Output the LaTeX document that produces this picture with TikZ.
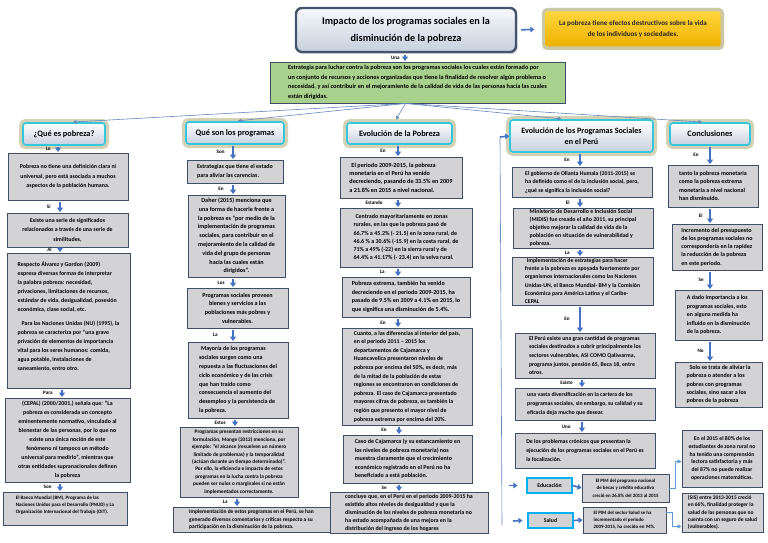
\documentclass[tikz,border=0pt]{standalone}
\usepackage{fontspec}
\setmainfont{Carlito}
\usetikzlibrary{arrows.meta,shadows,calc}

\definecolor{boxfill}{RGB}{211,211,214}
\definecolor{boxline}{RGB}{62,78,104}
\definecolor{arrblue}{RGB}{68,114,196}
\definecolor{thinblue}{RGB}{100,135,190}
\definecolor{elbblue}{RGB}{91,155,213}
\definecolor{cyanline}{RGB}{52,198,220}
\definecolor{glowc}{RGB}{160,155,90}
\definecolor{greenfill}{RGB}{169,209,142}
\definecolor{goldA}{RGB}{255,214,60}
\definecolor{goldB}{RGB}{238,176,0}
\definecolor{titletop}{RGB}{246,248,251}
\definecolor{titlebot}{RGB}{200,208,222}
\definecolor{titleline}{RGB}{68,84,106}
\definecolor{eduline}{RGB}{0,176,240}

\newcommand\myfs[2]{\fontsize{#1}{#2}\selectfont\bfseries}

\tikzset{
  gb/.style={draw=boxline, fill=boxfill, line width=0.9pt, inner xsep=2pt, inner ysep=1pt, font=\myfs{5.5}{8.5}},
  ttl/.style={draw=cyanline, line width=1.6pt, rounded corners=3pt, top color=white, bottom color=titlebot,
     font=\myfs{8.3}{9}, align=center, preaction={draw=glowc, line width=8pt, draw opacity=0.45}},
  maintitle/.style={draw=titleline, line width=2.4pt, rounded corners=6pt, top color=titletop, bottom color=titlebot,
     font=\myfs{10.2}{16.5}, align=center, drop shadow={shadow xshift=1.5pt, shadow yshift=-2pt, opacity=0.3}},
  yel/.style={rounded corners=2pt, top color=goldA, bottom color=goldB, font=\myfs{7.1}{10.5}, text=black!85,
     align=center, preaction={draw=glowc, line width=7pt, draw opacity=0.55}},
  edub/.style={draw=eduline, line width=1.1pt, fill=boxfill, font=\myfs{5.8}{6}, inner sep=1pt},
  darr/.style={draw=arrblue, line width=1.8pt, shorten <=1.5pt, shorten >=0.5pt, -{Triangle[width=6pt,length=4.5pt]}},
  harr/.style={draw=arrblue, line width=1.6pt, -{Triangle[width=5.5pt,length=4pt]}},
  fan/.style={draw=thinblue, line width=0.6pt, shorten >=3pt, -{Triangle[width=3.5pt,length=3.5pt]}},
  plainln/.style={draw=thinblue, line width=0.6pt},
  elb/.style={draw=elbblue, line width=0.7pt, -{Triangle[width=4pt,length=4pt]}},
  lbl/.style={font=\myfs{5.1}{5.5}, inner sep=0.5pt}
}

% name, x1, y1, x2, y2, options, text
\newcommand\gbox[7]{%
  \pgfmathsetlengthmacro\bxw{(#4)-(#2)}%
  \pgfmathsetlengthmacro\bxh{(#5)-(#3)}%
  \pgfmathsetmacro\bxcx{((#2)+(#4))/2}%
  \pgfmathsetmacro\bxcy{((#3)+(#5))/2}%
  \node[gb, minimum width=\bxw, minimum height=\bxh, #6] (#1) at (\bxcx,\bxcy) {#7};}

% from, to, x, label, label distance
\newcommand\dar[5]{%
  \coordinate (tmpx) at (#3,0);
  \draw[darr] (#1.south -| tmpx) -- (#2.north -| tmpx) node[lbl, midway, left=#5pt] {#4};}

\begin{document}
\begin{tikzpicture}[x=1pt,y=-1pt]
\useasboundingbox (0,0) rectangle (768,543);
\fill[white] (0,0) rectangle (768,543);

% ---- top
\node[maintitle, minimum width=220pt, minimum height=44pt] (t) at (406,30) {Impacto de los programas sociales en la\\disminución de la pobreza};
\node[yel, minimum width=175pt, minimum height=35pt] (y) at (633,29) {La pobreza tiene efectos destructivos sobre la vida\\de los individuos y sociedades.};
\draw[harr, shorten <=4pt, shorten >=11pt] (t.east) -- (y.west);

\gbox{g}{270}{62}{565}{103}{fill=greenfill, align=left, font=\myfs{6.3}{9.6}}{Estrategia para luchar contra la pobreza son los programas sociales los cuales están formado por\\un conjunto de recursos y acciones organizadas que tiene la finalidad de resolver algún problema o\\necesidad, y así contribuir en el mejoramiento de la calidad de vida de las personas hacia las cuales\\están dirigidas.}
\dar{t}{g}{405}{Una}{4}

% ---- titles
\gbox{q0}{23}{123}{105}{145}{ttl}{¿Qué es pobreza?}
\gbox{p0}{186}{122}{284}{144}{ttl}{Qué son los programas}
\gbox{e0}{347}{123}{452}{144}{ttl}{Evolución de la Pobreza}
\gbox{v0}{510}{120}{653}{152}{ttl, font=\myfs{8.1}{11}}{Evolución de los Programas Sociales\\en el Perú}
\gbox{c0}{670}{123}{750}{145}{ttl}{Conclusiones}

% ---- fan connectors
\coordinate (fo) at ([xshift=-12pt]g.south);
\draw[fan] (fo) -- ([xshift=6pt]q0.north);
\draw[fan] (fo) -- (p0.north);
\draw[fan] (fo) -- ([xshift=-5pt]e0.north);
\draw[fan] (fo) -- ([xshift=-17pt]v0.north);
\draw[fan] (fo) -- ([xshift=-5pt]c0.north);

% ---- column 1
\gbox{q1}{8}{153}{128}{200}{align=center, font=\myfs{5.9}{9.6}}{Pobreza no tiene una definición clara ni\\universal, pero está asociada a muchos\\aspectos de la población humana.}
\gbox{q2}{7}{213}{128}{247}{align=center, font=\myfs{5.9}{9.4}}{Existe una serie de significados\\relacionados a través de una serie de\\similitudes,}
\gbox{q3}{7}{253}{130}{388}{align=left, font=\myfs{5.9}{9.0}}{Respecto Álvarez y Gordon (2009)\\expresa diversas formas de interpretar\\la palabra pobreza: necesidad,\\privaciones, limitaciones de recursos,\\estándar de vida, desigualidad, posesión\\económica, clase social, etc.\\[5pt]\hspace*{4pt}Para las Naciones Unidas (NU) (1995), la\\pobreza se caracteriza por “una grave\\privación de elementos de importancia\\vital para los seres humanos: comida,\\agua potable, instalaciones de\\saneamiento, entro otro.\\\mbox{}}
\gbox{q4}{5}{398}{130}{482}{align=center, font=\myfs{5.9}{9.0}}{(CEPAL) (2000/2001,) señala que: “La\\pobreza es considerada un concepto\\eminentemente normativo, vinculado al\\bienestar de las personas, por lo que no\\existe una única noción de este\\fenómeno ni tampoco un método\\universal para medirlo”, mientras que\\otras entidades supranacionales definen\\la pobreza}
\gbox{q5}{3}{492}{127}{525}{align=left, font=\myfs{5.0}{7.0}}{El Banco Mundial (BM), Programa de las\\Naciones Unidos para el Desarrollo (PNUD) y La\\Organización Internacional del Trabajo (OIT).\\\mbox{}}
\dar{q0}{q1}{58}{Lo}{6}
\dar{q1}{q2}{60}{Si}{8}
\dar{q2}{q3}{60}{Al}{7}
\dar{q3}{q4}{62}{Para}{8}
\dar{q4}{q5}{60}{Son}{7}

% ---- column 2
\gbox{p1}{187}{160}{283}{183}{align=left, font=\myfs{6.0}{8.4}}{Estrategias que tiene el estado\\para aliviar las carencias.}
\gbox{p2}{188}{195}{285}{277}{align=center, font=\myfs{6.1}{8.8}}{Daher (2015) menciona que\\una forma de hacerle frente a\\la pobreza es “por medio de la\\implementación de programas\\sociales, para contribuir en el\\mejoramiento de la calidad de\\vida del grupo de personas\\hacia las cuales están\\dirigidos”.}
\gbox{p3}{187}{288}{288}{328}{align=center, font=\myfs{6.1}{8.6}}{Programas sociales proveen\\bienes y servicios a las\\poblaciones más pobres y\\vulnerables.}
\gbox{p4}{188}{342}{288}{418}{align=left, font=\myfs{6.0}{8.8}}{\hspace*{2pt}Mayoría de los programas\\sociales surgen como una\\repuesta a las fluctuaciones del\\ciclo económico y de las crisis\\que han traído como\\consecuencia el aumento del\\desempleo y la persistencia de\\la pobreza.}
\gbox{p5}{180}{427}{298}{497}{align=center, font=\myfs{5.3}{7.4}}{Programas presentan restricciones en su\\formulación, Monge (2012) menciona, por\\ejemplo: “el alcance (resuelven un número\\limitado de problemas) y la temporalidad\\(actúan durante un tiempo determinado)”.\\Por ello, la eficiencia e impacto de estos\\programas en la lucha contra la pobreza\\pueden ser nulos o marginales si no están\\implementados correctamente.}
\gbox{p6}{173}{507}{330}{532}{align=left, font=\myfs{5.5}{7.2}}{Implementación de estos programas en el Perú, se han\\generado diversos comentarios y críticas respecto a su\\participación en la disminución de la pobreza.}
\dar{p0}{p1}{233}{Son}{7}
\dar{p1}{p2}{233}{En}{8}
\dar{p2}{p3}{233}{Los}{7}
\dar{p3}{p4}{233}{La}{14}
\dar{p4}{p5}{235}{Estos}{8}
\dar{p5}{p6}{237}{La}{8}

% ---- column 3
\gbox{e1}{340}{157}{462}{198}{align=left, font=\myfs{6.2}{8.4}}{\hspace*{2pt}El periodo 2009-2015, la pobreza\\monetaria en el Perú ha venido\\decreciendo, pasando de 33.5\% en 2009\\a 21.8\% en 2015 a nivel nacional.}
\gbox{e2}{340}{208}{472}{267}{align=left, font=\myfs{6.0}{8.3}}{\hspace*{2pt}Centrado mayoritariamente en zonas\\rurales, en las que la pobreza pasó de\\66.7\% a 45.2\% (- 21.5) en la zona rural, de\\46.6 \% a 30.6\% (-15.9) en la costa rural, de\\71\% a 49\% (-22) en la sierra rural y de\\64.4\% a 41.17\% (- 23.4) en la selva rural.}
\gbox{e3}{342}{277}{470}{317}{align=left, font=\myfs{6.1}{8.6}}{Pobreza extrema, también ha venido\\decreciendo en el periodo 2009-2015, ha\\pasado de 9.5\% en 2009 a 4.1\% en 2015, lo\\que significa una disminución de 5.4\%.}
\gbox{e4}{342}{328}{472}{425}{align=left, font=\myfs{5.9}{8.6}}{Cuanto, a las diferencias al interior del país,\\en el periodo 2011 – 2015 los\\departamentos de Cajamarca y\\Huancavelica presentaron niveles de\\pobreza por encima del 50\%, es decir, más\\de la mitad de la población de estas\\regiones se encontraron en condiciones de\\pobreza. El caso de Cajamarca presentado\\mayores cifras de pobreza, es también la\\región que presento el mayor nivel de\\pobreza extrema por encima del 20\%.}
\gbox{e5}{343}{435}{472}{483}{align=left, font=\myfs{6.0}{8.4}}{Caso de Cajamarca (y su estancamiento en\\los niveles de pobreza monetaria) nos\\muestra claramente que el crecimiento\\económico registrado en el Perú no ha\\beneficiado a está población.}
\gbox{e6}{330}{492}{488}{533}{align=left, font=\myfs{5.9}{8.0}}{concluye que, en el Perú en el periodo 2009-2015 ha\\existido altos niveles de desigualdad y que la\\disminución de los niveles de pobreza monetaria no\\ha estado acompañada de una mejora en la\\distribución del ingreso de los hogares}
\dar{e0}{e1}{398}{En}{11}
\dar{e1}{e2}{398}{Estando}{14}
\dar{e2}{e3}{398}{La}{12}
\dar{e3}{e4}{398}{En}{11}
\dar{e4}{e5}{399}{En}{11}
\dar{e5}{e6}{399}{Se}{11}

% ---- column 4
\gbox{v1}{512}{167}{652}{197}{align=left, font=\myfs{5.8}{8.6}}{El gobierno de Ollanta Humala (2011-2015) se\\ha definido como el de la inclusión social, pero,\\¿qué se significa la inclusión social?}
\gbox{v2}{513}{208}{653}{248}{align=left, font=\myfs{5.9}{7.9}}{Ministerio de Desarrollo e Inclusión Social\\(MIDIS) fue creado el año 2011, su principal\\objetivo mejorar la calidad de vida de la\\población en situación de vulnerabilidad y\\pobreza.}
\gbox{v3}{512}{257}{653}{305}{align=left, font=\myfs{5.8}{8.1}}{\hspace*{2pt}Implementación de estrategias para hacer\\frente a la pobreza es apoyada fuertemente por\\organismos internacionales como las Naciones\\Unidas-UN, el Banco Mundial- BM y la Comisión\\Económica para América Latina y el Caribe-\\CEPAL}
\gbox{v4}{515}{333}{655}{378}{align=left, font=\myfs{5.8}{8.6}}{El Perú existe una gran cantidad de programas\\sociales destinados a cubrir principalmente los\\sectores vulnerables, ASI COMO Qaliwarma,\\programa juntos, pensión 65, Beca 18, entre\\otros.}
\gbox{v5}{515}{388}{655}{420}{align=left, font=\myfs{5.8}{9}}{una vasta diversificación en la cartera de los\\programas sociales, sin embargo, su calidad y su\\eficacia deja mucho que desear.}
\gbox{v6}{515}{433}{655}{468}{align=left, font=\myfs{5.8}{8.8}}{De los problemas crónicos que presentan la\\ejecución de los programas sociales en el Perú es\\la focalización.}
\dar{v0}{v1}{580}{En}{9}
\dar{v1}{v2}{580}{El}{9}
\dar{v2}{v3}{580}{La}{9}
\dar{v3}{v4}{580}{En}{9}
\dar{v4}{v5}{582}{Existe}{8}
\dar{v5}{v6}{582}{Uno}{10}

\node[edub, minimum width=45pt, minimum height=15pt] (edu) at (549.5,485.5) {Educación};
\node[edub, minimum width=45pt, minimum height=15pt] (sal) at (550.5,520.5) {Salud};
\gbox{edut}{582}{474}{669}{502}{align=center, font=\myfs{4.9}{7.3}}{El PIM del programa nacional\\de becas y crédito educativo\\creció en 26.8\% del 2013 al 2015}
\gbox{salt}{583}{507}{666}{533}{align=left, font=\myfs{4.9}{7.3}}{El PIM del sector Salud se ha\\incrementado el periodo\\2009-2015, ha crecido en 94\%.}

\coordinate (vt) at (500,137);
\coordinate (vb) at (502,525);
\coordinate (ea) at (509,485.5);
\coordinate (sa) at (513,521);
\draw[plainln] (vt) -- (vb);
\draw[harr] (vt) -- (v0.west);
\draw[harr] (ea) -- ([xshift=-9pt]edu.west);
\draw[harr] (sa) -- ([xshift=-5pt]sal.west);
\draw[harr] (edu.east) -- (edut.west);
\draw[harr] (sal.east) -- (salt.west);

% ---- column 5
\gbox{c1}{668}{165}{758}{207}{align=left, font=\myfs{6.0}{8.2}}{tanto la pobreza monetaria\\como la pobreza extrema\\monetaria a nivel nacional\\han disminuido.}
\gbox{c2}{672}{224}{762}{270}{align=left, font=\myfs{6.0}{8.3}}{Incremento del presupuesto\\de los programas sociales no\\correspondería en la rapidez\\la reducción de la pobreza\\en este periodo.}
\gbox{c3}{675}{290}{762}{340}{align=left, font=\myfs{5.9}{8.5}}{A dado importancia a los\\programas sociales, esto\\en alguna medida ha\\influido en la disminución\\de la pobreza.}
\gbox{c4}{675}{362}{762}{407}{align=left, font=\myfs{6.0}{8.2}}{\hspace*{3pt}Solo se trata de aliviar la\\pobreza o atender a los\\pobres con programas\\sociales, sino sacar a los\\pobres de la pobreza}
\gbox{c5}{682}{430}{762}{487}{align=center, font=\myfs{5.7}{7.8}}{En el 2015 el 80\% de los\\estudiantes de zona rural no\\ha tenido una comprensión\\lectora satisfactoria y más\\del 87\% no puede realizar\\operaciones matemáticas.}
\gbox{c6}{682}{493}{763}{532}{align=left, font=\myfs{5.5}{7.4}}{(SIS) entre 2013-2015 creció\\en 66\%, finalidad proteger la\\salud de las personas que no\\cuenta con un seguro de salud\\(vulnerables).}
\dar{c0}{c1}{710}{En}{10}
\dar{c1}{c2}{710}{El}{6}
\dar{c2}{c3}{710}{Se}{5}
\dar{c3}{c4}{710}{No}{5}

\draw[elb] (edut.east) -- ++(6,0) |- ([yshift=-3pt]c5.west);
\draw[elb] ([yshift=8pt]salt.east) -- ++(6,0) |- ([yshift=-14pt]c6.west);

\end{tikzpicture}
\end{document}
